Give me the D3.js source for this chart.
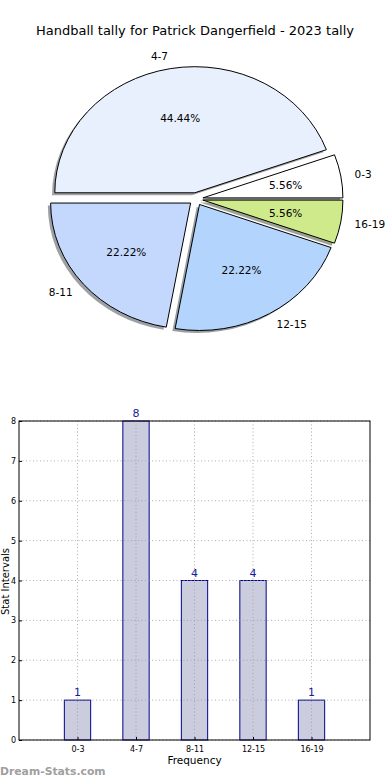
<!DOCTYPE html>
<html><head><meta charset="utf-8">
<script src="https://cdn.jsdelivr.net/npm/d3@7"></script>
<style>body{margin:0;background:#fff}svg{display:block;font-family:"DejaVu Sans",sans-serif}</style>
</head><body>
<script>
const title = "Handball tally for Patrick Dangerfield - 2023 tally";
const categories = ["0-3","4-7","8-11","12-15","16-19"];
const values = [1,8,4,4,1];
const pieColors = ["#ffffff","#e9f0fd","#c4d8fe","#b3d5fd","#cfea8a"];
const yTicks = [0,1,2,3,4,5,6,7,8];
const xLabel = "Frequency", yLabel = "Stat Intervals", watermark = "Dream-Stats.com";

const W = 390, H = 780;
const svg = d3.select("body").append("svg").attr("width",W).attr("height",H);
svg.append("rect").attr("width",W).attr("height",H).attr("fill","#fff");

svg.append("text").attr("x",195).attr("y",35).attr("text-anchor","middle")
  .attr("font-size",13).attr("fill","#000").text(title);

// ---- Pie ----
const cx = 196, cy = 199, rx = 140, ry = 126, explode = 0.05;
const total = d3.sum(values);
const pie = d3.pie().sort(null).startAngle(Math.PI/2).endAngle(Math.PI/2 - 2*Math.PI);
const arcs = pie(values);
const arc = d3.arc().innerRadius(0).outerRadius(1);
const off = a => { const m = (a.startAngle + a.endAngle)/2; return [Math.sin(m), -Math.cos(m)]; };

const pg = svg.append("g");
arcs.forEach((a,i) => {
  const [ux,uy] = off(a);
  const c = d3.rgb(pieColors[i]);
  const sc = d3.rgb(c.r*0.3, c.g*0.3, c.b*0.3);
  pg.append("path")
    .attr("transform",`translate(${cx + ux*rx*explode - 0.02*rx},${cy + uy*ry*explode + 0.02*ry}) scale(${rx},${ry})`)
    .attr("d", arc(a)).attr("fill", sc).attr("fill-opacity",0.5).attr("stroke","none");
});
arcs.forEach((a,i) => {
  const [ux,uy] = off(a);
  pg.append("path")
    .attr("transform",`translate(${cx + ux*rx*explode},${cy + uy*ry*explode}) scale(${rx},${ry})`)
    .attr("d", arc(a)).attr("fill", pieColors[i]).attr("stroke","#000").attr("stroke-width",1)
    .attr("vector-effect","non-scaling-stroke");
});
arcs.forEach((a,i) => {
  const [ux,uy] = off(a);
  const ox = cx + ux*rx*explode, oy = cy + uy*ry*explode;
  pg.append("text").attr("x", ox + ux*rx*0.6).attr("y", oy + uy*ry*0.6)
    .attr("text-anchor","middle").attr("dominant-baseline","central")
    .attr("font-size",10.5).attr("fill","#000")
    .text((values[i]/total*100).toFixed(2) + "%");
  const lx = ox + ux*rx*1.1, ly = oy + uy*ry*1.1;
  pg.append("text").attr("x", lx).attr("y", ly)
    .attr("text-anchor", (ux + ux*explode) > 0 ? "start" : "end").attr("dominant-baseline","central")
    .attr("font-size",10.5).attr("fill","#000").text(categories[i]);
});

// ---- Bar chart ----
const L = 19, R = 370, T = 421, B = 740;
const x = d3.scaleLinear().domain([-1, categories.length]).range([L, R]);
const y = d3.scaleLinear().domain([0, 8]).range([B, T]);
const bw = 0.45;
const bg = svg.append("g");

bg.selectAll("rect.bar").data(values).join("rect").attr("class","bar")
  .attr("x",(d,i)=>x(i - bw/2)).attr("width", x(bw) - x(0))
  .attr("y", d=>y(d)).attr("height", d=>B - y(d))
  .attr("fill","#ccccdf").attr("stroke","#00008b").attr("stroke-width",1);

const grid = bg.append("g").attr("stroke","#999").attr("stroke-width",0.8).attr("stroke-dasharray","1,2.5");
yTicks.forEach(t => grid.append("line").attr("x1",L).attr("x2",R).attr("y1",y(t)).attr("y2",y(t)));
categories.forEach((c,i) => grid.append("line").attr("x1",x(i)).attr("x2",x(i)).attr("y1",T).attr("y2",B));

bg.selectAll("text.val").data(values).join("text").attr("class","val")
  .attr("x",(d,i)=>x(i)).attr("y", d=>y(d) - 4).attr("text-anchor","middle")
  .attr("font-size",11).attr("fill","#1a1a9e").text(d=>d);

const yAxis = d3.axisLeft(y).tickValues(yTicks).tickSize(-3).tickPadding(3).tickFormat(d3.format("d"));
const ya = bg.append("g").attr("transform",`translate(${L},0)`).call(yAxis);
const xAxis = d3.axisBottom(x).tickValues(d3.range(categories.length)).tickSize(-3).tickPadding(6).tickFormat(i=>categories[i]);
const xa = bg.append("g").attr("transform",`translate(0,${B})`).call(xAxis);
[ya,xa].forEach(g=>{ g.select(".domain").remove(); g.selectAll("text").attr("font-size",8).attr("font-family","DejaVu Sans, sans-serif").attr("fill","#000"); g.selectAll("line").attr("stroke","#000"); });
bg.append("rect").attr("x",L).attr("y",T).attr("width",R-L).attr("height",B-T)
  .attr("fill","none").attr("stroke","#000").attr("stroke-width",1);

svg.append("text").attr("x",(L+R)/2).attr("y",764).attr("text-anchor","middle")
  .attr("font-size",10.5).attr("fill","#000").text(xLabel);
svg.append("text").attr("transform",`translate(5,${(T+B)/2 + 1}) rotate(-90)`).attr("text-anchor","middle")
  .attr("dominant-baseline","central")
  .attr("font-size",10).attr("fill","#000").text(yLabel);
svg.append("text").attr("x",0).attr("y",775).attr("font-size",10.8).attr("font-weight","bold")
  .attr("fill","#a0a0a0").text(watermark);
</script>
</body></html>
